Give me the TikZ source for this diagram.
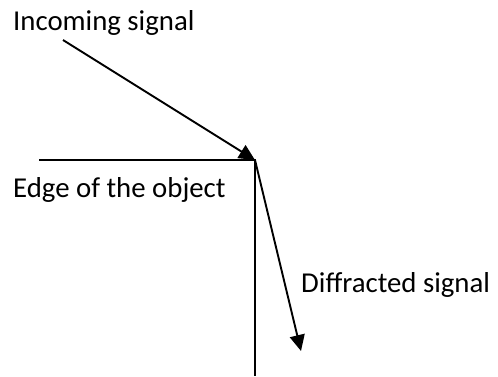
\documentclass[tikz,border=0pt]{standalone}
\usepackage{fontspec}
\setmainfont{Carlito}
\usetikzlibrary{arrows.meta}
\begin{document}
\begin{tikzpicture}[x=1pt,y=-1pt,
  lbl/.style={anchor=base west,inner sep=0pt,font=\fontsize{28.8}{34}\selectfont},
  ln/.style={line width=1.9pt},
  arr/.style={ln,-{Triangle[length=16pt,width=15pt]}}]
\useasboundingbox (0,0) rectangle (498,376);
\coordinate (corner) at (255,160);
\coordinate (inA) at (63,40);
\coordinate (edgeL) at (39,160);
\coordinate (bottom) at (255,376);
\coordinate (diffTip) at (301,351);
\node[lbl] (tin) at (13,30) {Incoming signal};
\node[lbl] (tedge) at (13,197) {Edge of the object};
\node[lbl] (tdiff) at (301,292) {Diffracted signal};
\draw[ln] (edgeL) -- (corner) -- (bottom);
\draw[arr] (inA) -- (corner);
\draw[arr] (corner) -- (diffTip);
\end{tikzpicture}
\end{document}
